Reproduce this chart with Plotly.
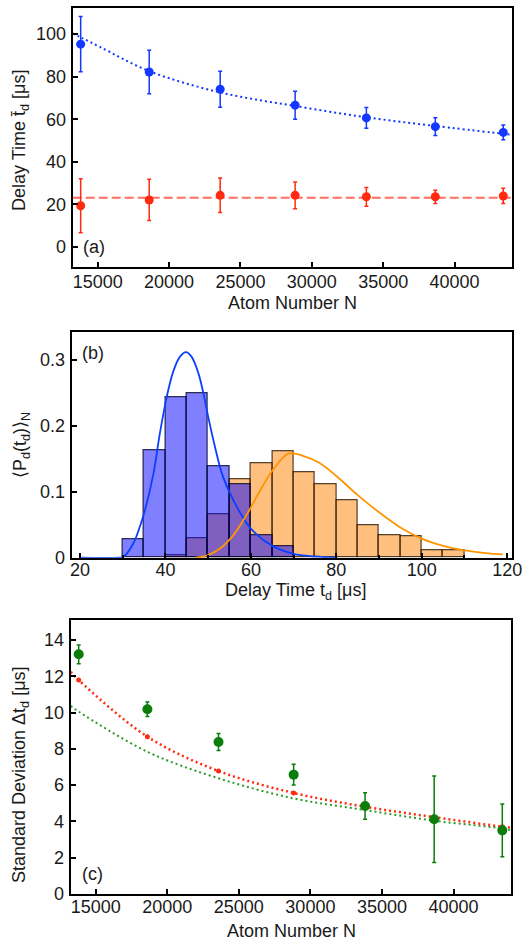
import plotly.graph_objects as go

# ---------------- data ----------------
# Panel (a)
atom_N = [13810, 18610, 23580, 28830, 33820, 38650, 43410]
delay_blue = [95.3, 82.2, 74.1, 66.6, 60.6, 56.5, 53.8]
delay_blue_err = [13.0, 10.2, 8.5, 6.6, 4.9, 4.2, 3.5]
delay_red = [19.3, 22.0, 24.2, 24.2, 23.5, 23.5, 23.9]
delay_red_err = [12.7, 9.7, 8.1, 6.3, 4.4, 3.1, 3.6]
fit_blue_N = [13250, 13810, 15160, 18610, 23580, 28830, 33820, 38650, 44000]
fit_blue_t = [100.3, 98.5, 94.0, 82.6, 72.6, 66.2, 60.9, 56.8, 52.7]
red_mean_N = [13250, 44000]
red_mean_t = [23.0, 23.0]

# Panel (b) histograms (bin width 5 us)
bins_blue = [32.5, 37.5, 42.5, 47.5, 52.5, 57.5, 62.5, 67.5]
hist_blue = [0.028, 0.163, 0.243, 0.249, 0.139, 0.111, 0.034, 0.017]
bins_orange = [42.5, 47.5, 52.5, 57.5, 62.5, 67.5, 72.5, 77.5, 82.5, 87.5,
               92.5, 97.5, 102.5, 107.5]
hist_orange = [0.003, 0.029, 0.066, 0.119, 0.144, 0.161, 0.129, 0.111, 0.087,
               0.049, 0.034, 0.032, 0.011, 0.011]
curve_blue_t = [20, 29, 30.1, 32.5, 34.0, 35.2, 37.2, 38.7, 40.3, 41.8, 43.4,
                44.8, 46.1, 47.7, 48.9, 50.0, 51.6, 53.2, 55.1, 57.5, 60, 65,
                70, 75, 80]
curve_blue_p = [0, 0, 0.001, 0.022, 0.047, 0.072, 0.128, 0.189, 0.244, 0.282,
                0.305, 0.312, 0.305, 0.280, 0.249, 0.214, 0.168, 0.128, 0.098,
                0.068, 0.044, 0.018, 0.006, 0.002, 0.0]
curve_orange_t = [47, 50, 53, 56, 59, 62, 65, 68.8, 72, 76, 80, 85, 90, 95,
                  100, 105, 110, 115, 119]
curve_orange_p = [0, 0.004, 0.015, 0.035, 0.065, 0.100, 0.132, 0.158, 0.155,
                  0.144, 0.124, 0.095, 0.069, 0.046, 0.029, 0.018, 0.011,
                  0.007, 0.005]

# Panel (c)
std_green = [13.21, 10.18, 8.38, 6.58, 4.85, 4.12, 3.51]
std_green_err = [0.52, 0.40, 0.47, 0.57, 0.73, 2.38, 1.45]
std_red = [11.79, 8.67, 6.78, 5.57, 4.81, 4.24, 3.71]
fit_red_N = [13250, 13810, 18610, 23580, 28830, 33820, 38650, 43410, 44000]
fit_red_s = [12.24, 11.79, 8.67, 6.78, 5.57, 4.81, 4.24, 3.71, 3.66]
fit_green_N = [13250, 13810, 18610, 23580, 28830, 33820, 38650, 43410, 44000]
fit_green_s = [10.36, 10.05, 7.84, 6.38, 5.27, 4.63, 4.04, 3.62, 3.53]

# ---------------- styles ----------------
BLUE = "#1438ff"
RED = "#ff2a10"
GREEN = "#0b7d0b"
FONT = "Liberation Sans, Arial, Helvetica, sans-serif"
TXT = "#1a1a1a"

fig = go.Figure()

# ---- panel (a)
fig.add_trace(go.Scatter(x=fit_blue_N, y=fit_blue_t, mode="lines", line_shape="spline",
                         line=dict(color=BLUE, width=2, dash="2px,3px"),
                         xaxis="x", yaxis="y", hoverinfo="skip"))
fig.add_trace(go.Scatter(x=red_mean_N, y=red_mean_t, mode="lines",
                         line=dict(color="rgba(255,60,40,0.75)", width=2, dash="9px,4px"),
                         xaxis="x", yaxis="y", hoverinfo="skip"))
fig.add_trace(go.Scatter(x=atom_N, y=delay_blue, mode="markers",
                         marker=dict(color=BLUE, size=9),
                         error_y=dict(type="data", array=delay_blue_err, color=BLUE,
                                      thickness=1.5, width=2),
                         xaxis="x", yaxis="y"))
fig.add_trace(go.Scatter(x=atom_N, y=delay_red, mode="markers",
                         marker=dict(color=RED, size=9),
                         error_y=dict(type="data", array=delay_red_err, color=RED,
                                      thickness=1.5, width=2),
                         xaxis="x", yaxis="y"))

# ---- panel (b)
fig.add_trace(go.Bar(x=bins_orange, y=hist_orange, width=5,
                     marker=dict(color="rgba(255,128,0,0.5)",
                                 line=dict(color="rgba(40,20,0,0.8)", width=1.2)),
                     xaxis="x2", yaxis="y2"))
fig.add_trace(go.Bar(x=bins_blue, y=hist_blue, width=5,
                     marker=dict(color="rgba(0,0,255,0.5)",
                                 line=dict(color="rgba(0,0,40,0.8)", width=1.2)),
                     xaxis="x2", yaxis="y2"))
fig.add_trace(go.Scatter(x=curve_blue_t, y=curve_blue_p, mode="lines", line_shape="spline",
                         line=dict(color="#0a40ff", width=1.8),
                         xaxis="x2", yaxis="y2", hoverinfo="skip"))
fig.add_trace(go.Scatter(x=curve_orange_t, y=curve_orange_p, mode="lines", line_shape="spline",
                         line=dict(color="#ff9500", width=1.8),
                         xaxis="x2", yaxis="y2", hoverinfo="skip"))

# ---- panel (c)
fig.add_trace(go.Scatter(x=fit_green_N, y=fit_green_s, mode="lines", line_shape="spline",
                         line=dict(color="#2a9a2a", width=2, dash="2px,3px"),
                         xaxis="x3", yaxis="y3", hoverinfo="skip"))
fig.add_trace(go.Scatter(x=fit_red_N, y=fit_red_s, mode="lines", line_shape="spline",
                         line=dict(color=RED, width=2.5, dash="2px,3px"),
                         xaxis="x3", yaxis="y3", hoverinfo="skip"))
fig.add_trace(go.Scatter(x=atom_N, y=std_red, mode="markers",
                         marker=dict(color=RED, size=5),
                         xaxis="x3", yaxis="y3"))
fig.add_trace(go.Scatter(x=atom_N, y=std_green, mode="markers",
                         marker=dict(color=GREEN, size=10),
                         error_y=dict(type="data", array=std_green_err, color=GREEN,
                                      thickness=1.5, width=2),
                         xaxis="x3", yaxis="y3"))

axis_common = dict(showline=True, linecolor="black", linewidth=2, mirror=True,
                   ticks="inside", ticklen=5, tickwidth=1.5, tickcolor="black",
                   showgrid=False, zeroline=False, automargin=False,
                   tickfont=dict(family=FONT, size=18, color=TXT))

fig.update_layout(
    template="none",
    width=526, height=941,
    margin=dict(l=0, r=0, t=0, b=0),
    paper_bgcolor="white", plot_bgcolor="white",
    showlegend=False,
    barmode="overlay", bargap=0,
    font=dict(family=FONT, size=18, color=TXT),
    xaxis=dict(domain=[0.1382, 0.9728], range=[13250, 44000], anchor="y",
               tickvals=[15000, 20000, 25000, 30000, 35000, 40000], tickformat="d",
               ticklabelstandoff=-3, **axis_common),
    yaxis=dict(domain=[0.7163, 0.9915], range=[-9.5, 112.3], anchor="x",
               tickvals=[0, 20, 40, 60, 80, 100], ticklabelstandoff=1, **axis_common),
    xaxis2=dict(domain=[0.1363, 0.974], range=[18.05, 121.2], anchor="y2",
                tickvals=[20, 40, 60, 80, 100, 120], ticklabelstandoff=-5,
                minor=dict(ticks="inside", ticklen=3, tickcolor="black", dtick=10, tick0=0),
                **axis_common),
    yaxis2=dict(domain=[0.4073, 0.6469], range=[0, 0.342], anchor="x2",
                tickvals=[0, 0.1, 0.2, 0.3], ticktext=["0", "0.1", "0.2", "0.3"],
                ticklabelstandoff=1, **axis_common),
    xaxis3=dict(domain=[0.1344, 0.971], range=[13250, 44000], anchor="y3",
                tickvals=[15000, 20000, 25000, 30000, 35000, 40000], tickformat="d",
                ticklabelstandoff=-5, **axis_common),
    yaxis3=dict(domain=[0.0499, 0.3411], range=[0, 15.1], anchor="x3",
                tickvals=[0, 2, 4, 6, 8, 10, 12, 14], ticklabelstandoff=1, **axis_common),
)

ann_font = dict(family=FONT, size=18, color=TXT)
annotations = [
    dict(text="(a)", x=94 / 526, y=1 - 247 / 941),
    dict(text="(b)", x=93 / 526, y=1 - 353 / 941),
    dict(text="(c)", x=92 / 526, y=1 - 874 / 941),
    dict(text="Atom Number N", x=292 / 526, y=1 - 303 / 941),
    dict(text="Delay Time t<sub>d</sub> [μs]", x=295 / 526, y=1 - 591 / 941),
    dict(text="Atom Number N", x=291 / 526, y=1 - 931 / 941),
    dict(text="Delay Time t\u0304<sub>d</sub> [μs]", x=20 / 526, y=1 - 141 / 941, textangle=-90),
    dict(text="⟨P<sub>d</sub>(t<sub>d</sub>)⟩<sub>N</sub>", x=21 / 526, y=1 - 445 / 941, textangle=-90),
    dict(text="Standard Deviation Δt<sub>d</sub> [μs]", x=20 / 526, y=1 - 775 / 941, textangle=-90),
]
for a in annotations:
    fig.add_annotation(xref="paper", yref="paper", showarrow=False,
                       xanchor="center", yanchor="middle", font=ann_font, **a)

fig.write_html("out.html", config={"displayModeBar": False},
               post_script="document.body.style.margin='0';")
